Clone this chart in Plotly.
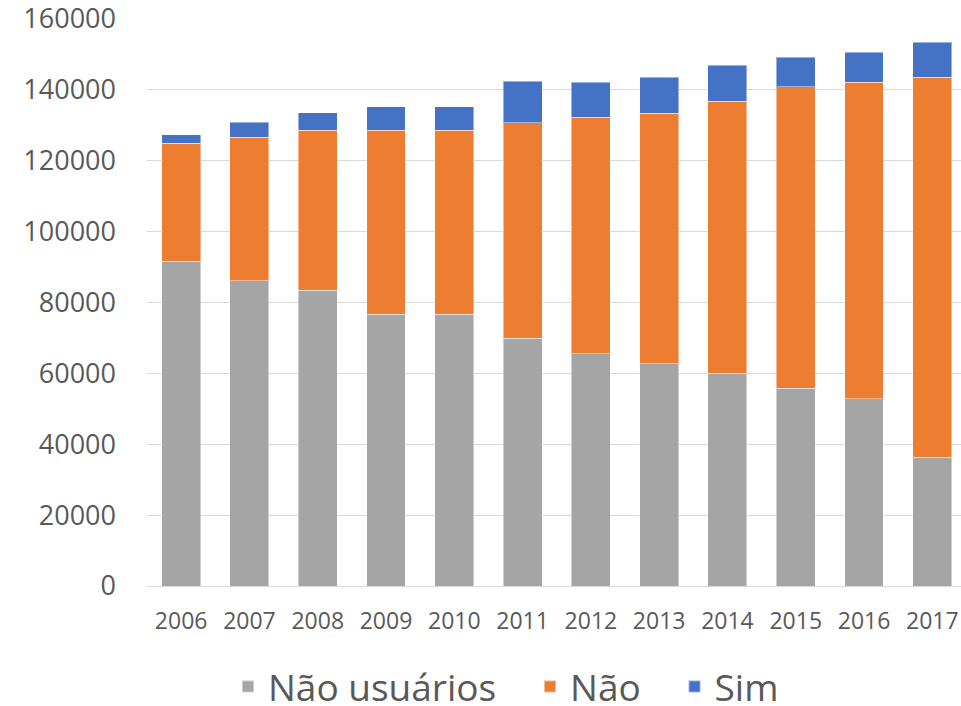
import plotly.graph_objects as go

anos = ["2006", "2007", "2008", "2009", "2010", "2011",
        "2012", "2013", "2014", "2015", "2016", "2017"]
nao_usuarios = [91700, 86100, 83400, 76700, 76700, 69900, 65600, 62700, 60100, 55800, 52900, 36400]
nao = [33200, 40500, 45200, 51900, 51900, 60800, 66700, 70700, 76700, 85100, 89200, 107100]
sim = [2500, 4300, 4900, 6600, 6600, 11700, 9800, 10100, 10100, 8300, 8500, 9900]

font = "Open Sans, Calibri, sans-serif"
edge = dict(color="rgba(255,255,255,0.45)", width=1)
pad = "\u00a0\u00a0\u00a0"  # extra room between legend entries

fig = go.Figure()
fig.add_trace(go.Bar(x=anos, y=nao_usuarios, name="Não usuários" + pad,
                     marker=dict(color="#A5A5A5", line=edge)))
fig.add_trace(go.Bar(x=anos, y=nao, name="Não" + pad,
                     marker=dict(color="#ED7D31", line=edge)))
fig.add_trace(go.Bar(x=anos, y=sim, name="Sim",
                     marker=dict(color="#4472C4", line=edge)))

fig.update_layout(
    barmode="stack",
    bargap=0.43,
    width=961,
    height=706,
    margin=dict(l=147, r=0, t=19, b=120, autoexpand=False),
    plot_bgcolor="white",
    paper_bgcolor="white",
    font=dict(family=font, color="#595959"),
    legend=dict(
        orientation="h",
        x=0.441, xanchor="center",
        y=-0.178, yanchor="middle",
        font=dict(size=37, color="#595959"),
        itemsizing="constant",
        traceorder="normal",
    ),
)
fig.update_xaxes(
    type="category",
    range=[-0.5, 11.42],
    showline=True, linecolor="#d9d9d9", linewidth=1,
    ticks="", tickfont=dict(size=23, color="#595959"),
    ticklabelstandoff=14,
)
fig.update_yaxes(
    range=[0, 160000],
    tickvals=[0, 20000, 40000, 60000, 80000, 100000, 120000, 140000, 160000],
    tickformat="d",
    showgrid=True, gridcolor="#d9d9d9", gridwidth=1,
    zeroline=False,
    tickfont=dict(size=27, color="#595959"),
    ticklabelstandoff=30,
    ticklabeloverflow="allow",
)

# drop the page's default 8px body margin so the figure fills the window
fig.write_html("out.html", config={"displayModeBar": False},
               post_script="document.body.style.margin = '0';")
